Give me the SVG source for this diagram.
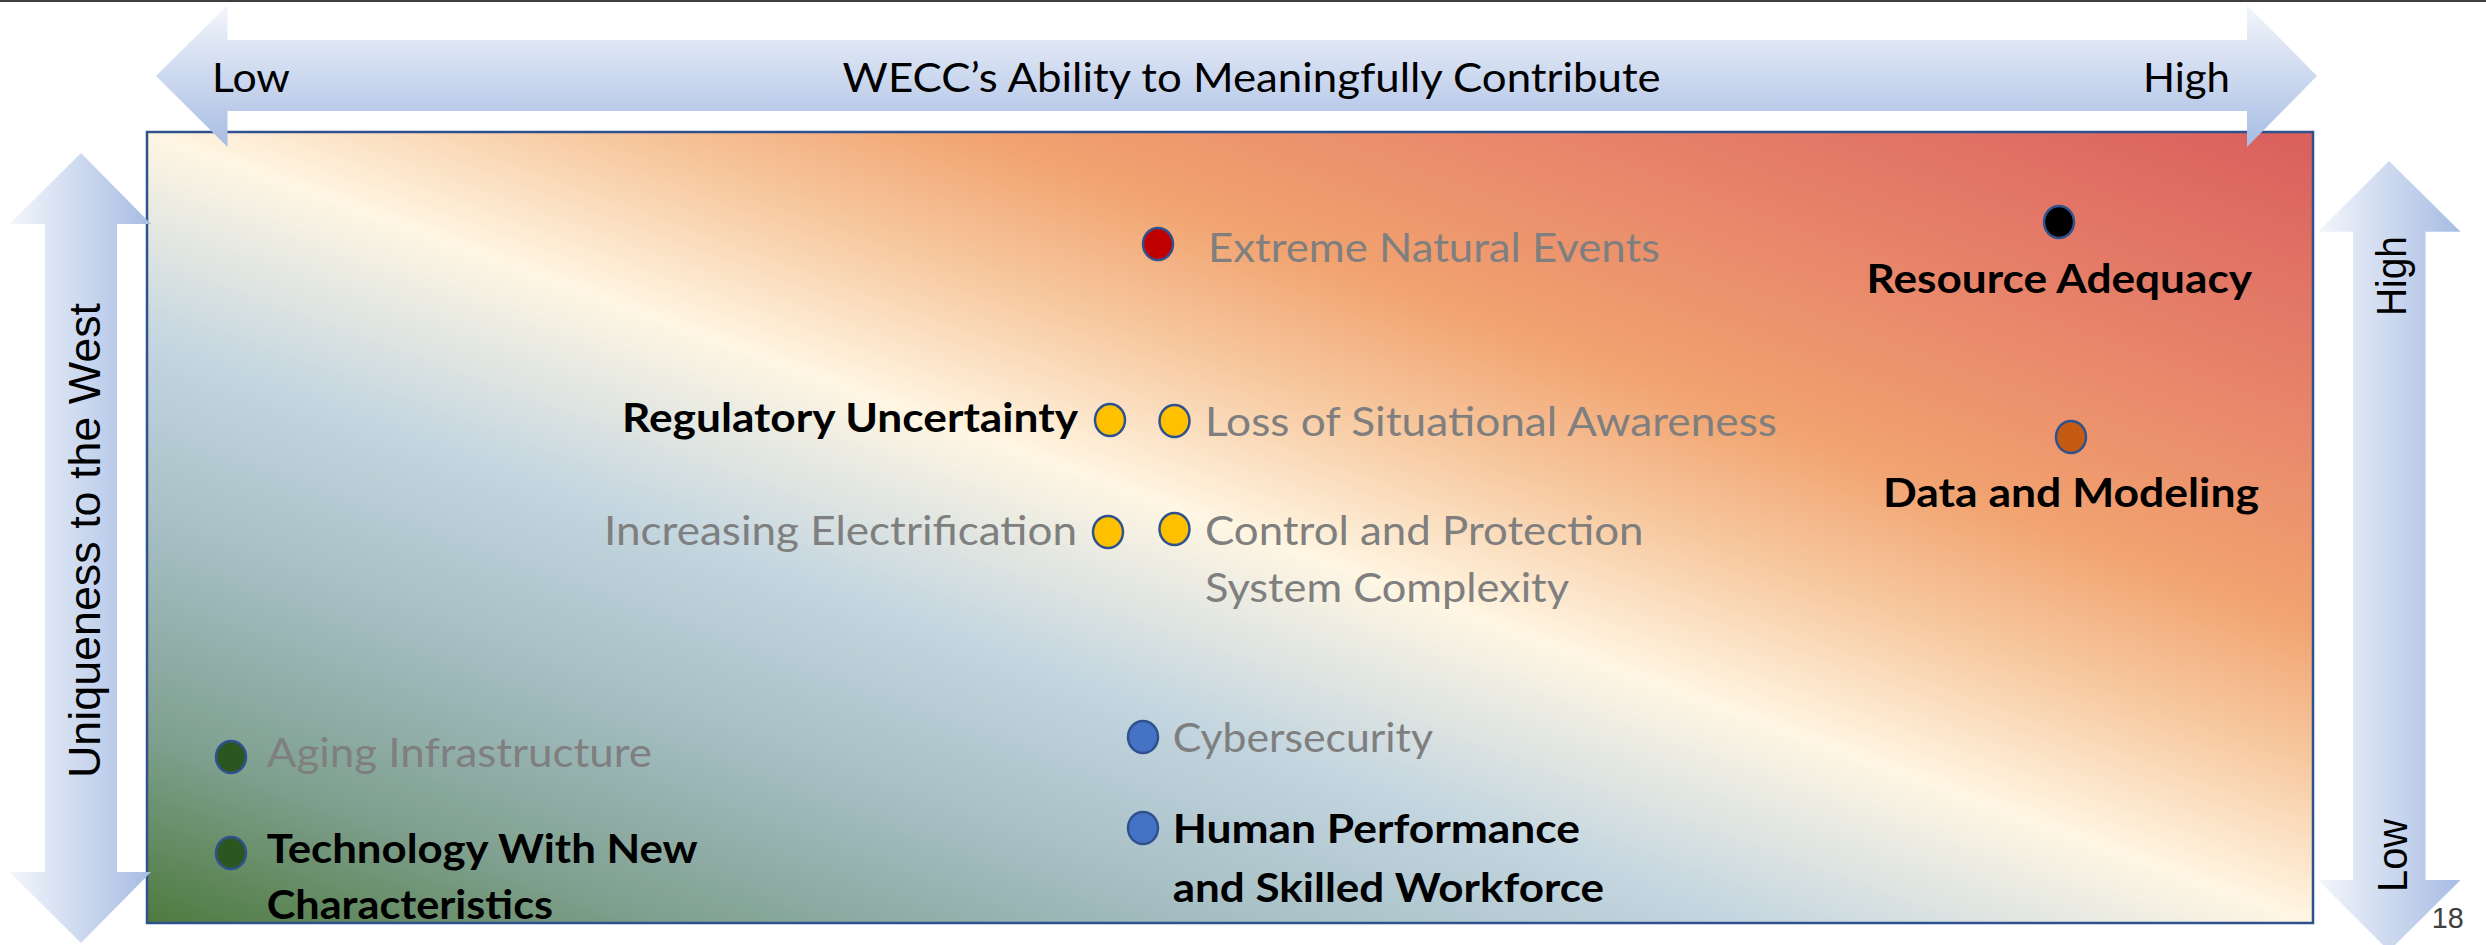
<svg xmlns="http://www.w3.org/2000/svg" width="2486" height="945" viewBox="0 0 2486 945">
<defs>
<style>
.lbl { font-family: Lato, "Liberation Sans", sans-serif; font-size: 41px; }
.gry { fill: #7F7F7F; }
.blk { fill: #000000; }
.bld { font-weight: 700; fill: #000000; }
.dot { stroke: #2F528F; stroke-width: 2.5; }
.vax { font-family: "Liberation Sans", Arial, sans-serif; fill: #000000; }
</style>
<linearGradient id="bg" x1="0" y1="1" x2="1" y2="0">
<stop offset="0" stop-color="#4E7A3E"/>
<stop offset="0.12" stop-color="#7FA08F"/>
<stop offset="0.25" stop-color="#A5BEC4"/>
<stop offset="0.37" stop-color="#C4D6E0"/>
<stop offset="0.5" stop-color="#FFF6E3"/>
<stop offset="0.6" stop-color="#F7C9A0"/>
<stop offset="0.69" stop-color="#F1A370"/>
<stop offset="0.83" stop-color="#E7836A"/>
<stop offset="1" stop-color="#D95F5D"/>
</linearGradient>
<linearGradient id="axH" x1="0" y1="0" x2="0" y2="1">
<stop offset="0" stop-color="#F3F6FB"/>
<stop offset="1" stop-color="#A7BCE3"/>
</linearGradient>
<linearGradient id="axV" x1="0" y1="0" x2="1" y2="0">
<stop offset="0" stop-color="#F3F6FB"/>
<stop offset="1" stop-color="#A7BCE3"/>
</linearGradient>
</defs>
<rect x="0" y="0" width="2486" height="945" fill="#FFFFFF"/>
<rect x="0" y="0" width="2486" height="2" fill="#3F3F3F"/>

<rect id="matrix" x="147" y="132" width="2166" height="791" fill="url(#bg)" stroke="#2F528F" stroke-width="2.5"/>

<g id="connectors">
<g id="axis-x">
<polygon points="156,76 227.5,5 227.5,40 2247,40 2247,5 2317,76 2247,147 2247,111 227.5,111 227.5,147" fill="url(#axH)"/>
<text class="lbl blk" x="212" y="92" textLength="78" lengthAdjust="spacingAndGlyphs">Low</text>
<text class="lbl blk" x="842.6" y="92" textLength="818" lengthAdjust="spacingAndGlyphs">WECC’s Ability to Meaningfully Contribute</text>
<text class="lbl blk" x="2143" y="92" textLength="87" lengthAdjust="spacingAndGlyphs">High</text>
</g>
<g id="axis-y-left">
<polygon points="81,153 151,224 117,224 117,872 151,872 81,943 9.5,872 45,872 45,224 9.5,224" fill="url(#axV)"/>
<text class="vax" font-size="45" transform="translate(100,778) rotate(-90)" textLength="475" lengthAdjust="spacingAndGlyphs">Uniqueness to the West</text>
</g>
<g id="axis-y-right">
<polygon points="2389,161 2460.5,231.7 2425.5,231.7 2425.5,880 2460.5,880 2389,951 2318,880 2353,880 2353,231.7 2318,231.7" fill="url(#axV)"/>
<text class="vax" font-size="42" transform="translate(2406,316) rotate(-90)" textLength="80" lengthAdjust="spacingAndGlyphs">High</text>
<text class="vax" font-size="42" transform="translate(2406.5,892) rotate(-90)" textLength="73" lengthAdjust="spacingAndGlyphs">Low</text>
</g>
</g>

<g id="node-extreme-natural-events">
<ellipse class="dot" cx="1158" cy="244" rx="15" ry="16" fill="#C00000"/>
<text class="lbl gry" x="1208" y="262" textLength="452" lengthAdjust="spacingAndGlyphs">Extreme Natural Events</text>
</g>
<g id="node-resource-adequacy">
<ellipse class="dot" cx="2059" cy="222" rx="15" ry="16" fill="#000000"/>
<text class="lbl bld" x="1866.5" y="293" textLength="385.5" lengthAdjust="spacingAndGlyphs">Resource Adequacy</text>
</g>
<g id="node-regulatory-uncertainty">
<ellipse class="dot" cx="1110" cy="420" rx="15" ry="16" fill="#FFC000"/>
<text class="lbl bld" x="622" y="432" textLength="456" lengthAdjust="spacingAndGlyphs">Regulatory Uncertainty</text>
</g>
<g id="node-loss-of-situational-awareness">
<ellipse class="dot" cx="1174.5" cy="421" rx="15" ry="16" fill="#FFC000"/>
<text class="lbl gry" x="1205" y="436" textLength="572" lengthAdjust="spacingAndGlyphs">Loss of Situational Awareness</text>
</g>
<g id="node-data-and-modeling">
<ellipse class="dot" cx="2071" cy="437" rx="15" ry="16" fill="#C55A11"/>
<text class="lbl bld" x="1883" y="507" textLength="376" lengthAdjust="spacingAndGlyphs">Data and Modeling</text>
</g>
<g id="node-increasing-electrification">
<ellipse class="dot" cx="1108" cy="532" rx="15" ry="16" fill="#FFC000"/>
<text class="lbl gry" x="604" y="545" textLength="473" lengthAdjust="spacingAndGlyphs">Increasing Electrification</text>
</g>
<g id="node-control-and-protection">
<ellipse class="dot" cx="1174.5" cy="529" rx="15" ry="16" fill="#FFC000"/>
<text class="lbl gry" x="1205" y="545" textLength="438.5" lengthAdjust="spacingAndGlyphs">Control and Protection</text>
<text class="lbl gry" x="1205" y="602" textLength="364" lengthAdjust="spacingAndGlyphs">System Complexity</text>
</g>
<g id="node-cybersecurity">
<ellipse class="dot" cx="1143" cy="737" rx="15" ry="16" fill="#4472C4"/>
<text class="lbl gry" x="1172.7" y="752" textLength="260.3" lengthAdjust="spacingAndGlyphs">Cybersecurity</text>
</g>
<g id="node-human-performance">
<ellipse class="dot" cx="1143" cy="828" rx="15" ry="16" fill="#4472C4"/>
<text class="lbl bld" x="1172.7" y="843" textLength="407.3" lengthAdjust="spacingAndGlyphs">Human Performance</text>
<text class="lbl bld" x="1172.7" y="902" textLength="431.3" lengthAdjust="spacingAndGlyphs">and Skilled Workforce</text>
</g>
<g id="node-aging-infrastructure">
<ellipse class="dot" cx="231" cy="757" rx="15" ry="16" fill="#2B5620"/>
<text class="lbl gry" x="266.7" y="767" textLength="385.3" lengthAdjust="spacingAndGlyphs">Aging Infrastructure</text>
</g>
<g id="node-technology-new-characteristics">
<ellipse class="dot" cx="231" cy="853" rx="15" ry="16" fill="#2B5620"/>
<text class="lbl bld" x="266.7" y="863" textLength="431" lengthAdjust="spacingAndGlyphs">Technology With New</text>
<text class="lbl bld" x="266.7" y="919" textLength="286.3" lengthAdjust="spacingAndGlyphs">Characteristics</text>
</g>

<text x="2431.7" y="928" font-family="Liberation Sans, Arial, sans-serif" font-size="30" fill="#404040" textLength="32" lengthAdjust="spacingAndGlyphs">18</text>
</svg>
